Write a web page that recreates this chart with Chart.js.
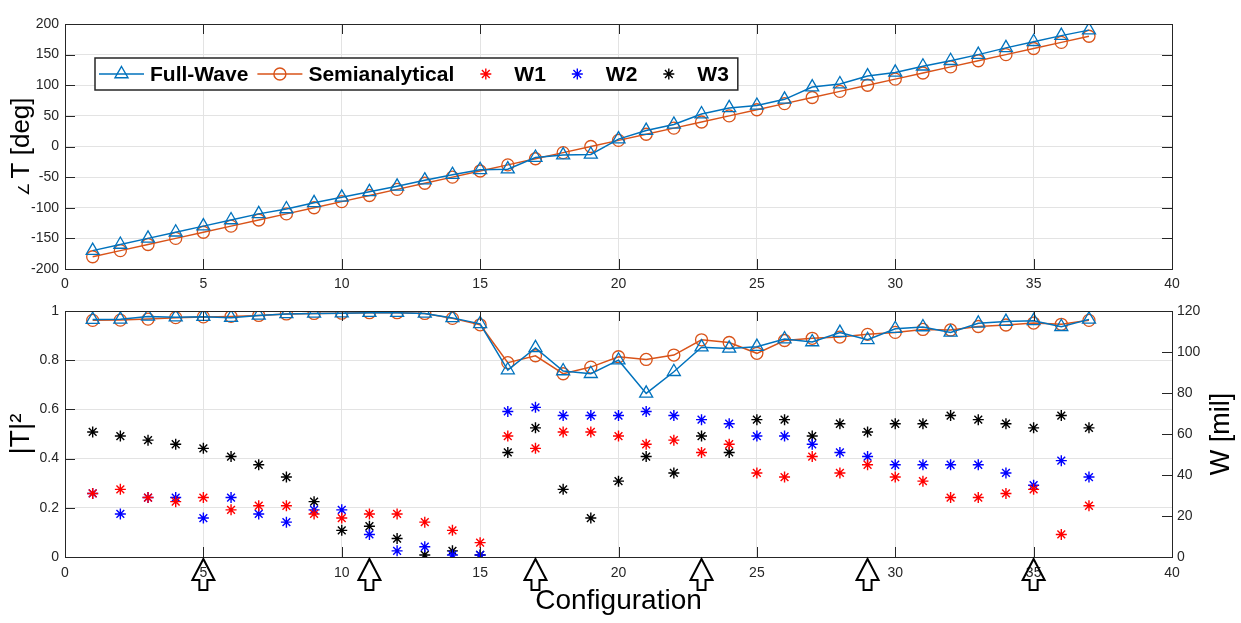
<!DOCTYPE html>
<html>
<head>
<meta charset="utf-8">
<script src="https://cdn.jsdelivr.net/npm/chart.js@4.4.1/dist/chart.umd.min.js"></script>
<style>
  html, body { margin: 0; padding: 0; background: #fff; }
  #wrap { position: relative; width: 1241px; height: 623px; }
  #topChart { position: absolute; left: 0; top: 0; }
  #bottomChart { position: absolute; left: 0; top: 295px; }
</style>
</head>
<body>
<div id="wrap">
  <canvas id="topChart" width="1241" height="295"></canvas>
  <canvas id="bottomChart" width="1241" height="328"></canvas>
</div>
<script>
// --- Datos ---
const configs = [1,2,3,4,5,6,7,8,9,10,11,12,13,14,15,16,17,18,19,20,21,22,23,24,25,26,27,28,29,30,31,32,33,34,35,36,37];

// fase de T [deg]
const phaseFullWave = [-170,-160,-150,-140,-130,-120,-110,-102,-92,-83,-74,-65,-55,-46,-38,-37,-18,-14,-13,12,26,36,53,63,67,77,97,102,115,121,131,140,150,161,171,181,190];
const phaseSemi = [-180,-170,-160,-150,-140,-130,-120,-110,-100,-90,-80,-70,-60,-50,-40,-30,-20,-10,0,10,20,30,40,50,60,70,80,90,100,110,120,130,140,150,160,170,180];

// |T|^2
const magFullWave = [0.965,0.966,0.978,0.975,0.977,0.973,0.982,0.988,0.990,0.991,0.993,0.993,0.990,0.972,0.948,0.760,0.850,0.756,0.745,0.800,0.665,0.753,0.853,0.848,0.855,0.886,0.874,0.912,0.883,0.928,0.935,0.913,0.950,0.957,0.960,0.936,0.966];
const magSemi = [0.962,0.963,0.967,0.973,0.976,0.978,0.982,0.988,0.990,0.991,0.993,0.993,0.990,0.970,0.944,0.790,0.818,0.745,0.772,0.814,0.803,0.821,0.883,0.872,0.828,0.880,0.889,0.894,0.905,0.913,0.925,0.923,0.937,0.943,0.951,0.946,0.962];

// anchos W [mil]
const w1 = [31,33,29,27,29,23,25,25,21,19,21,21,17,13,7,59,53,61,61,59,55,57,51,55,41,39,49,41,45,39,37,29,29,31,33,11,25];
const w2 = [31,21,29,29,19,29,21,17,23,23,11,3,5,1,1,71,73,69,69,69,71,69,67,65,59,59,55,51,49,45,45,45,45,41,35,47,39];
const w3 = [61,59,57,55,53,49,45,39,27,13,15,9,1,3,1,51,63,33,19,37,49,41,59,51,67,67,59,65,61,65,65,69,67,65,63,69,63];

// configuraciones marcadas con flecha
const arrowConfigs = [5,11,17,23,29,35];

const seriesNames = ['Full-Wave', 'Semianalytical', 'W1', 'W2', 'W3'];

// --- Estilos ---
const FONT = "'Liberation Sans', Arial, Helvetica, sans-serif";
Chart.defaults.font.family = FONT;
const AXIS_COLOR = '#262626';
const GRID_COLOR = '#e3e3e3';
const BLUE = '#0072BD', ORANGE = '#D95319';

const toXY = arr => configs.map((c, i) => ({ x: c, y: arr[i] }));

function drawMarker(ctx, style, x, y, r, color, lw) {
    ctx.save();
    ctx.strokeStyle = color;
    ctx.lineWidth = lw;
    ctx.beginPath();
    if (style === 'triangle') {
        let a = 0;
        ctx.moveTo(x + Math.sin(a) * r, y - Math.cos(a) * r);
        a += 2 * Math.PI / 3;
        ctx.lineTo(x + Math.sin(a) * r, y - Math.cos(a) * r);
        a += 2 * Math.PI / 3;
        ctx.lineTo(x + Math.sin(a) * r, y - Math.cos(a) * r);
        ctx.closePath();
    } else if (style === 'circle') {
        ctx.arc(x, y, r, 0, 2 * Math.PI);
    } else {
        const d = Math.cos(Math.PI / 4) * r;
        ctx.moveTo(x - r, y); ctx.lineTo(x + r, y);
        ctx.moveTo(x, y - r); ctx.lineTo(x, y + r);
        ctx.moveTo(x - d, y - d); ctx.lineTo(x + d, y + d);
        ctx.moveTo(x - d, y + d); ctx.lineTo(x + d, y - d);
    }
    ctx.stroke();
    ctx.restore();
}

// caja tipo MATLAB con ticks hacia adentro
const boxPlugin = {
    id: 'box',
    afterDatasetsDraw(chart) {
        const { ctx, chartArea: a, scales } = chart;
        const L = 10;
        ctx.save();
        ctx.strokeStyle = AXIS_COLOR;
        ctx.lineWidth = 1;
        ctx.strokeRect(a.left + 0.5, a.top + 0.5, a.right - a.left, a.bottom - a.top);
        ctx.beginPath();
        scales.x.ticks.forEach(t => {
            const px = Math.round(scales.x.getPixelForValue(t.value)) + 0.5;
            ctx.moveTo(px, a.bottom); ctx.lineTo(px, a.bottom - L);
            ctx.moveTo(px, a.top); ctx.lineTo(px, a.top + L);
        });
        scales.y.ticks.forEach(t => {
            const py = Math.round(scales.y.getPixelForValue(t.value)) + 0.5;
            ctx.moveTo(a.left, py); ctx.lineTo(a.left + L, py);
            if (!scales.y2) { ctx.moveTo(a.right, py); ctx.lineTo(a.right - L, py); }
        });
        if (scales.y2) {
            scales.y2.ticks.forEach(t => {
                const py = Math.round(scales.y2.getPixelForValue(t.value)) + 0.5;
                ctx.moveTo(a.right, py); ctx.lineTo(a.right - L, py);
            });
        }
        ctx.stroke();
        ctx.restore();
    }
};

// leyenda dentro del gráfico superior + título del eje y con el símbolo de ángulo pequeño
const legendItems = [
    { name: seriesNames[0], color: BLUE, style: 'triangle', line: true, r: 7.5 },
    { name: seriesNames[1], color: ORANGE, style: 'circle', line: true, r: 6 },
    { name: seriesNames[2], color: '#ff0000', style: 'star', line: false, r: 5.5 },
    { name: seriesNames[3], color: '#0000ff', style: 'star', line: false, r: 5.5 },
    { name: seriesNames[4], color: '#000000', style: 'star', line: false, r: 5.5 }
];

const legendPlugin = {
    id: 'insideLegend',
    afterDraw(chart) {
        const ctx = chart.ctx;
        const left = 95, top = 58, h = 32, cy = top + h / 2;
        ctx.save();
        ctx.font = 'bold 21px ' + FONT;
        let cursor = left + 4;
        const layout = [];
        legendItems.forEach(it => {
            const mx = cursor + 22.5;
            const tx = mx + 28.5;
            const tw = ctx.measureText(it.name).width;
            layout.push({ it, mx, tx });
            cursor = tx + tw + 9;
        });
        const right = cursor;
        ctx.fillStyle = '#fff';
        ctx.fillRect(left, top, right - left, h);
        ctx.strokeStyle = AXIS_COLOR;
        ctx.lineWidth = 1.5;
        ctx.strokeRect(left, top, right - left, h);
        layout.forEach(({ it, mx, tx }) => {
            if (it.line) {
                ctx.beginPath();
                ctx.strokeStyle = it.color;
                ctx.lineWidth = 1.5;
                ctx.moveTo(mx - 22.5, cy); ctx.lineTo(mx + 22.5, cy);
                ctx.stroke();
            }
            drawMarker(ctx, it.style, mx, cy, it.r, it.color, 1.4);
            ctx.fillStyle = '#000';
            ctx.textBaseline = 'middle';
            ctx.textAlign = 'left';
            ctx.fillText(it.name, tx, cy + 1);
        });
        ctx.restore();

        // título vertical "∠ T [deg]"
        const a = chart.chartArea;
        const smallFont = '15px ' + FONT, bigFont = '26px ' + FONT;
        const partA = '∠ ', partB = 'T [deg]';
        ctx.save();
        ctx.font = smallFont;
        const wA = ctx.measureText(partA).width;
        ctx.font = bigFont;
        const wB = ctx.measureText(partB).width;
        ctx.translate(20, (a.top + a.bottom) / 2);
        ctx.rotate(-Math.PI / 2);
        ctx.fillStyle = '#000';
        ctx.textBaseline = 'alphabetic';
        ctx.textAlign = 'left';
        const start = -(wA + wB) / 2;
        ctx.font = smallFont;
        ctx.fillText(partA, start, 9);
        ctx.font = bigFont;
        ctx.fillText(partB, start + wA, 9);
        ctx.restore();
    }
};

// flechas bajo el eje x del gráfico inferior
const arrowPlugin = {
    id: 'arrows',
    afterDraw(chart) {
        const { ctx, chartArea: a, scales } = chart;
        ctx.save();
        ctx.strokeStyle = '#000';
        ctx.lineWidth = 2;
        ctx.lineJoin = 'miter';
        arrowConfigs.forEach(v => {
            const x = scales.x.getPixelForValue(v);
            const y0 = a.bottom + 2;
            ctx.beginPath();
            ctx.moveTo(x, y0);
            ctx.lineTo(x + 11, y0 + 21);
            ctx.lineTo(x + 4, y0 + 21);
            ctx.lineTo(x + 4, y0 + 31);
            ctx.lineTo(x - 4, y0 + 31);
            ctx.lineTo(x - 4, y0 + 21);
            ctx.lineTo(x - 11, y0 + 21);
            ctx.closePath();
            ctx.stroke();
        });
        // título del eje derecho, leído de abajo hacia arriba
        const cy = (a.top + a.bottom) / 2;
        ctx.translate(1222, cy);
        ctx.rotate(-Math.PI / 2);
        ctx.font = '27px ' + FONT;
        ctx.fillStyle = '#000';
        ctx.textAlign = 'center';
        ctx.textBaseline = 'middle';
        ctx.fillText('W [mil]', 0, 0);
        ctx.restore();
    }
};

function xScale(height, pad, title) {
    return {
        type: 'linear', min: 0, max: 40,
        ticks: { stepSize: 5, padding: pad, color: AXIS_COLOR, font: { size: 14 }, maxRotation: 0 },
        grid: { color: GRID_COLOR, drawTicks: false },
        border: { display: false },
        title: title ? { display: true, text: title, color: '#000', font: { size: 28 }, padding: { top: 0, bottom: 5 } } : { display: false },
        afterFit: s => { s.height = height; }
    };
}

function lineSet(label, data, color, style, r, axis) {
    return {
        label, data: toXY(data), yAxisID: axis || 'y',
        borderColor: color, borderWidth: 1.5, tension: 0,
        pointStyle: style, pointRadius: r, pointHoverRadius: r,
        pointBorderColor: color, pointBackgroundColor: 'rgba(0,0,0,0)', pointBorderWidth: 1.3
    };
}

function starSet(label, data, color) {
    return {
        label, data: toXY(data), yAxisID: 'y2', showLine: false,
        pointStyle: 'star', pointRadius: 5.5, pointHoverRadius: 5.5,
        pointBorderColor: color, borderColor: color, pointBorderWidth: 1.4
    };
}

// --- Gráfico superior: fase ---
new Chart(document.getElementById('topChart'), {
    type: 'line',
    data: {
        datasets: [
            lineSet(seriesNames[0], phaseFullWave, BLUE, 'triangle', 7.5),
            lineSet(seriesNames[1], phaseSemi, ORANGE, 'circle', 6)
        ]
    },
    options: {
        responsive: false, animation: false,
        layout: { padding: { top: 24, right: 69, left: 0, bottom: 0 } },
        plugins: { legend: { display: false }, tooltip: { enabled: false } },
        scales: {
            x: xScale(26, 7),
            y: {
                min: -200, max: 200,
                ticks: { stepSize: 50, padding: 6, color: AXIS_COLOR, font: { size: 14 } },
                grid: { color: GRID_COLOR, drawTicks: false },
                border: { display: false },
                title: { display: false },
                afterFit: s => { s.width = 65; }
            }
        }
    },
    plugins: [boxPlugin, legendPlugin]
});

// --- Gráfico inferior: |T|^2 y anchos ---
new Chart(document.getElementById('bottomChart'), {
    type: 'line',
    data: {
        datasets: [
            lineSet(seriesNames[0], magFullWave, BLUE, 'triangle', 7.5),
            lineSet(seriesNames[1], magSemi, ORANGE, 'circle', 6),
            starSet(seriesNames[2], w1, '#ff0000'),
            starSet(seriesNames[3], w2, '#0000ff'),
            starSet(seriesNames[4], w3, '#000000')
        ]
    },
    options: {
        responsive: false, animation: false,
        layout: { padding: { top: 16, right: 0, left: 0, bottom: 0 } },
        plugins: { legend: { display: false }, tooltip: { enabled: false } },
        scales: {
            x: xScale(66, 8, 'Configuration'),
            y: {
                position: 'left', min: 0, max: 1,
                ticks: { stepSize: 0.2, padding: 6, color: AXIS_COLOR, font: { size: 14 }, callback: v => String(+v.toFixed(2)) },
                grid: { color: GRID_COLOR, drawTicks: false },
                border: { display: false },
                title: { display: true, text: '|T|²', color: '#000', font: { size: 28 }, padding: { top: 4, bottom: 0 } },
                afterFit: s => { s.width = 65; }
            },
            y2: {
                position: 'right', min: 0, max: 120,
                ticks: { stepSize: 20, padding: 5, color: AXIS_COLOR, font: { size: 14 } },
                grid: { drawOnChartArea: false, drawTicks: false },
                border: { display: false },
                afterFit: s => { s.width = 69; }
            }
        }
    },
    plugins: [boxPlugin, arrowPlugin]
});
</script>
</body>
</html>
